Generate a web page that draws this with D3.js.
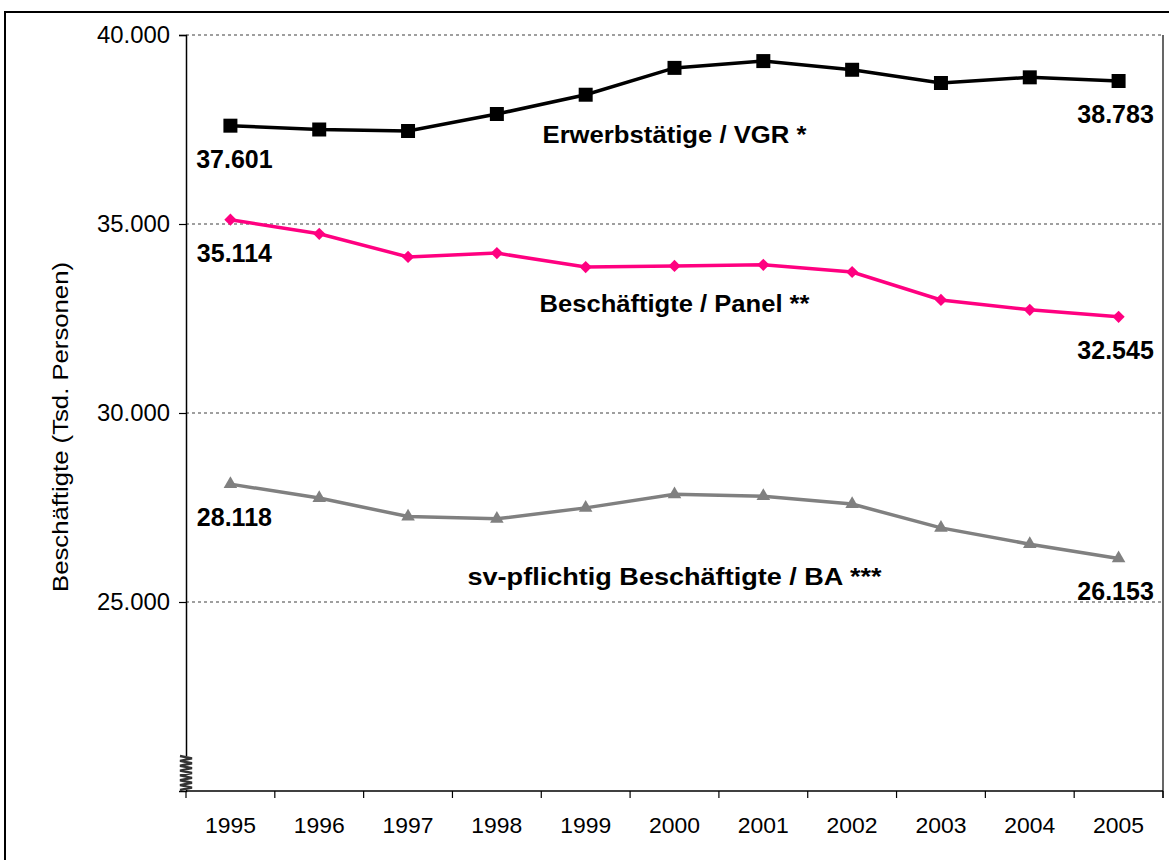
<!DOCTYPE html>
<html>
<head>
<meta charset="utf-8">
<script src="https://cdn.jsdelivr.net/npm/d3@7"></script>
<style>
  body { margin: 0; background: #fff; }
  svg { display: block; font-family: "Liberation Sans", Arial, sans-serif; }
</style>
</head>
<body>
<div class="viz"></div>
<script>
// data
var years = ["1995", "1996", "1997", "1998", "1999", "2000", "2001", "2002", "2003", "2004", "2005"];
var erwerbstaetige = [37601, 37500, 37460, 37910, 38420, 39130, 39310, 39080, 38730, 38880, 38783];
var panel = [35114, 34740, 34130, 34230, 33860, 33890, 33920, 33730, 32990, 32730, 32545];
var svPflichtig = [28118, 27750, 27260, 27200, 27490, 27850, 27800, 27590, 26960, 26530, 26153];
var yTicks = [25000, 30000, 35000, 40000];
var seriesNames = ["Erwerbstätige / VGR *", "Beschäftigte / Panel **", "sv-pflichtig Beschäftigte / BA ***"];
var yTitle = "Beschäftigte (Tsd. Personen)";

// dimensions
var W = 1169, H = 860;
var margin = { top: 35, right: 6, bottom: 69, left: 186 };
var width = W - margin.left - margin.right;
var height = H - margin.top - margin.bottom;

// german number format
var de = d3.formatLocale({ decimal: ",", thousands: ".", grouping: [3], currency: ["", " €"] });
var fmt = de.format(",d");

var svg = d3.select(".viz").append("svg")
  .attr("width", W)
  .attr("height", H);

// outer frame
svg.append("rect")
  .attr("x", 5).attr("y", 12)
  .attr("width", W + 20).attr("height", H + 20)
  .attr("fill", "none")
  .attr("stroke", "#000")
  .attr("stroke-width", 2);

var g = svg.append("g")
  .attr("transform", "translate(" + margin.left + "," + margin.top + ")");

// scales
var xScale = d3.scaleBand().domain(years).range([0, width]).padding(0);
var yScale = d3.scaleLinear().domain([20000, 40000]).range([height, 0]);
var xc = d => xScale(d) + xScale.bandwidth() / 2;

// gridlines
g.append("g").selectAll("line")
  .data(yTicks)
  .enter().append("line")
  .attr("x1", 0).attr("x2", width)
  .attr("y1", d => yScale(d)).attr("y2", d => yScale(d))
  .attr("stroke", "#808080")
  .attr("stroke-width", 1.5)
  .attr("stroke-dasharray", "3,3");

// right border of plot area
g.append("line")
  .attr("x1", width).attr("x2", width)
  .attr("y1", 0).attr("y2", height + 7)
  .attr("stroke", "#000")
  .attr("stroke-width", 1.2);

// y axis
var yAxis = d3.axisLeft(yScale).tickValues(yTicks).tickSize(7).tickPadding(9).tickFormat(fmt);
var gY = g.append("g").call(yAxis);
gY.select(".domain").attr("stroke-width", 1.5);
gY.selectAll(".tick line").attr("stroke-width", 1.2);
gY.selectAll("text")
  .attr("font-size", 23)
  .attr("font-family", "Liberation Sans, Arial, sans-serif")
  .attr("textLength", 73)
  .attr("lengthAdjust", "spacingAndGlyphs");

// x axis (ticks between categories)
var gX = g.append("g").attr("transform", "translate(0," + height + ")");
gX.append("line")
  .attr("x1", 0).attr("x2", width)
  .attr("stroke", "#000").attr("stroke-width", 1.5);
gX.selectAll("line.tk")
  .data(years.concat(["end"]))
  .enter().append("line")
  .attr("class", "tk")
  .attr("x1", (d, i) => i * xScale.bandwidth())
  .attr("x2", (d, i) => i * xScale.bandwidth())
  .attr("y1", 0).attr("y2", 7)
  .attr("stroke", "#000").attr("stroke-width", 1.2);
gX.selectAll("text")
  .data(years)
  .enter().append("text")
  .attr("x", d => xc(d))
  .attr("y", 42)
  .attr("text-anchor", "middle")
  .attr("font-size", 22)
  .attr("textLength", 51)
  .attr("lengthAdjust", "spacingAndGlyphs")
  .text(d => d);

// axis break symbol
var brk = [];
var y0 = yScale(20000) - 35, y1 = yScale(20000) - 1;
for (var i = 0; i <= 14; i++) {
  brk.push([i % 2 === 0 ? -6 : 6, y0 + (y1 - y0) * i / 14]);
}
g.append("rect")
  .attr("x", -7).attr("y", y0).attr("width", 14).attr("height", y1 - y0)
  .attr("fill", "#fff");
g.append("path")
  .attr("d", d3.line()(brk))
  .attr("fill", "none")
  .attr("stroke", "#333")
  .attr("stroke-width", 2.4);

// y title
svg.append("text")
  .attr("transform", "translate(68," + (margin.top + 392) + ") rotate(-90)")
  .attr("text-anchor", "middle")
  .attr("font-size", 22)
  .attr("textLength", 330)
  .attr("lengthAdjust", "spacingAndGlyphs")
  .text(yTitle);

// series
var series = [
  { name: seriesNames[0], values: erwerbstaetige, color: "#000000", symbol: d3.symbolSquare, size: 196, labelDy: 75, width: 264 },
  { name: seriesNames[1], values: panel, color: "#ff0080", symbol: d3.symbolDiamond2, size: 95, labelDy: 46, width: 270 },
  { name: seriesNames[2], values: svPflichtig, color: "#808080", symbol: d3.symbolTriangle, size: 80, labelDy: 91, width: 414 }
];

var line = d3.line()
  .x((d, i) => xc(years[i]))
  .y(d => yScale(d));

series.forEach(function(s) {
  var sg = g.append("g");
  sg.append("path")
    .attr("d", line(s.values))
    .attr("fill", "none")
    .attr("stroke", s.color)
    .attr("stroke-width", 3.5);
  sg.selectAll("path.m")
    .data(s.values)
    .enter().append("path")
    .attr("class", "m")
    .attr("d", d3.symbol().type(s.symbol).size(s.size))
    .attr("transform", (d, i) => "translate(" + xc(years[i]) + "," + yScale(d) + ")")
    .attr("fill", s.color);

  // first and last value labels
  var last = s.values.length - 1;
  [0, last].forEach(function(i) {
    sg.append("text")
      .attr("x", xc(years[i]) + (i === 0 ? 4 : -3))
      .attr("y", yScale(s.values[i]) + 42)
      .attr("text-anchor", "middle")
      .attr("font-size", 25)
      .attr("font-weight", "bold")
      .text(fmt(s.values[i]));
  });

  // series name
  sg.append("text")
    .attr("x", xc("2000"))
    .attr("y", yScale(s.values[5]) + s.labelDy)
    .attr("text-anchor", "middle")
    .attr("font-size", 23)
    .attr("font-weight", "bold")
    .attr("textLength", s.width)
    .attr("lengthAdjust", "spacingAndGlyphs")
    .text(s.name);
});
</script>
</body>
</html>
